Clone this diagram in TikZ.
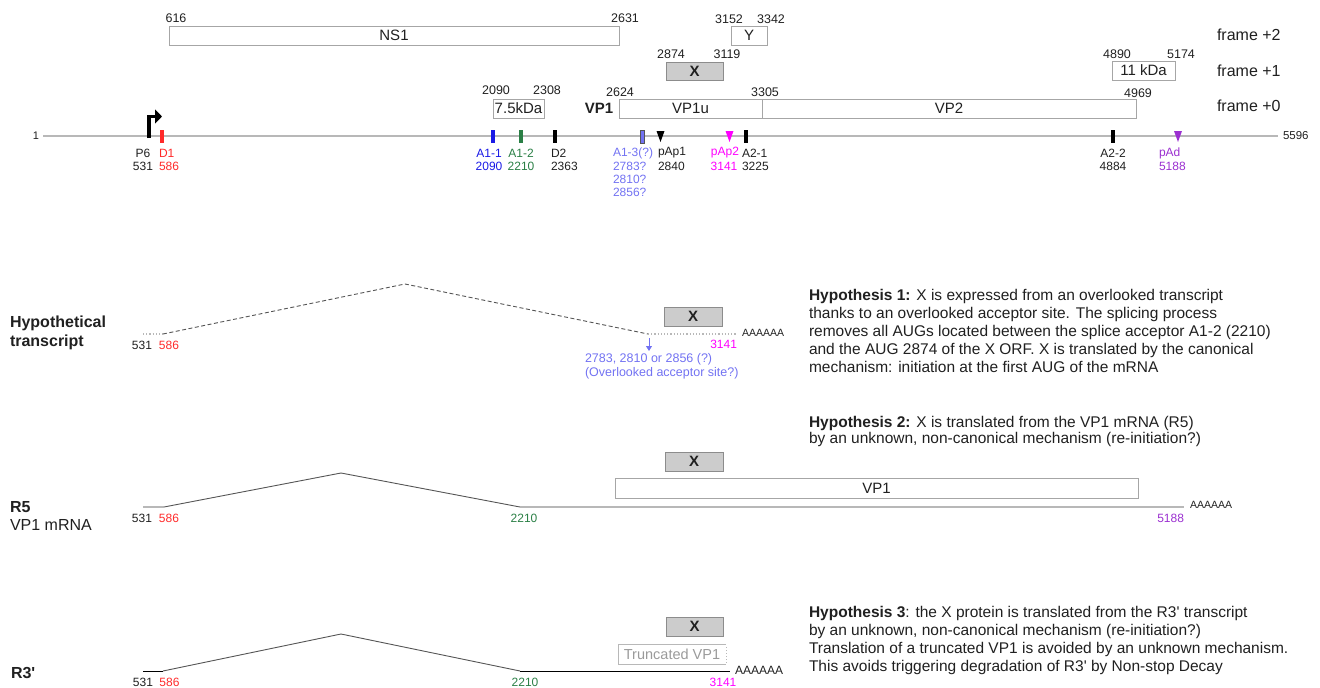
\documentclass[tikz,border=0pt]{standalone}
\usepackage{fontspec}
\setmainfont{Liberation Sans}
\usetikzlibrary{arrows.meta}
\definecolor{boxgray}{HTML}{A6A6A6}
\definecolor{linegray}{HTML}{B8B8B8}
\definecolor{xfill}{HTML}{CCCCCC}
\definecolor{xdraw}{HTML}{8C8C8C}
\definecolor{dred}{HTML}{FF2A2A}
\definecolor{dblue}{HTML}{1A1AE6}
\definecolor{dgreen}{HTML}{2A7F45}
\definecolor{lblue}{HTML}{7272F2}
\definecolor{dmag}{HTML}{FF00FF}
\definecolor{dpurple}{HTML}{9B30D0}
\definecolor{txt}{HTML}{202020}
\definecolor{splice}{HTML}{555555}
\definecolor{trunc}{HTML}{9A9A9A}
\begin{document}
\begin{tikzpicture}[x=1pt,y=-1pt,
  every node/.style={inner sep=0pt, outer sep=0pt, text=txt},
  num/.style={font=\fontsize{12.5}{14}\selectfont},
  lab/.style={font=\fontsize{12}{13}\selectfont},
  frm/.style={font=\fontsize{16}{18}\selectfont, anchor=west},
  orf/.style={draw=boxgray, line width=1pt, fill=white, font=\fontsize{15}{17}\selectfont},
  xorf/.style={draw=xdraw, line width=1pt, fill=xfill, font=\bfseries\fontsize{15}{17}\selectfont},
  site/.style={minimum width=4pt, minimum height=13pt},
  hyp/.style={font=\fontsize{15.5}{18}\selectfont, align=left, anchor=north west},
  rowlab/.style={font=\bfseries\fontsize{16}{19}\selectfont, anchor=west},
  polya/.style={font=\fontsize{10.5}{12}\selectfont, anchor=west},
  genome/.style={draw=linegray, line width=1.5pt},
  exon/.style={draw=linegray, line width=1.5pt},
  intron/.style={draw=splice, line width=0.9pt}
]
\useasboundingbox (0,0) rectangle (1320,688);

% ---------------- ORF boxes ----------------
\node[orf, minimum width=450pt, minimum height=19pt] (ns1) at (394,35.5) {NS1};
\node[orf, minimum width=36pt, minimum height=19pt] (y) at (749,35.5) {Y};
\node[xorf, minimum width=57pt, minimum height=18pt] (xtop) at (694.5,71) {X};
\node[orf, minimum width=51pt, minimum height=19pt] (kda75) at (518.5,108.5) {7.5kDa};
\node[orf, minimum width=143pt, minimum height=19pt] (vp1u) at (690.5,108.5) {VP1u};
\node[orf, minimum width=374pt, minimum height=19pt] (vp2) at (949,108.5) {VP2};
\node[orf, minimum width=63pt, minimum height=19pt] (kda11) at (1143.5,70.5) {11 kDa};

\node[num] (n616) at (176,18) {616};
\node[num] (n2631) at (625,18) {2631};
\node[num] (n3152) at (729,19) {3152};
\node[num] (n3342) at (771,19) {3342};
\node[num] (n2874) at (671,54) {2874};
\node[num] (n3119) at (727,54) {3119};
\node[num] (n2090t) at (496,90) {2090};
\node[num] (n2308) at (547,90) {2308};
\node[num] (n2624) at (620,92) {2624};
\node[num] (n3305) at (765,92) {3305};
\node[num] (n4969) at (1138,93) {4969};
\node[num] (n4890) at (1117,54) {4890};
\node[num] (n5174) at (1181,54) {5174};
\node[font=\bfseries\fontsize{15}{17}\selectfont] (vp1lab) at (599,108) {VP1};

\node[frm] (f2) at (1217,35) {frame +2};
\node[frm] (f1) at (1217,71) {frame +1};
\node[frm] (f0) at (1217,106) {frame +0};

% ---------------- genome ----------------
\coordinate (gstart) at (43,136);
\coordinate (gend) at (1278,136);
\draw[genome] (gstart) -- (gend);
\node[lab, font=\fontsize{11}{12}\selectfont, anchor=east] (one) at (39,136) {1};
\node[lab, font=\fontsize{11.5}{12}\selectfont, anchor=west] (len) at (1283,136) {5596};

% P6 promoter arrow
\coordinate (p6a) at (149,138);
\coordinate (p6b) at (162,116.5);
\draw[line width=3.8pt, -{Triangle[length=7pt,width=14pt]}] (p6a) |- (p6b);

% splice sites
\node[site, fill=dred] (d1) at (162,136.5) {};
\node[site, fill=dblue] (a11) at (493,136.5) {};
\node[site, fill=dgreen] (a12) at (521,136.5) {};
\node[site, fill=black] (d2) at (554.5,136.5) {};
\node[site, fill=lblue, draw=splice, line width=0.4pt] (a13) at (642,136.5) {};
\node[site, fill=black] (a21) at (746,136.5) {};
\node[site, fill=black] (a22) at (1113,136.5) {};
% polyA sites
\fill[black] (656.5,131) -- (664.5,131) -- (660.5,142) -- cycle;
\fill[dmag] (725.5,131) -- (733.5,131) -- (729.5,142) -- cycle;
\fill[dpurple] (1174,131) -- (1182,131) -- (1178,142) -- cycle;

% site labels
\node[lab] (lp6) at (143,153) {P6};
\node[lab] (l531) at (143,166) {531};
\node[lab, anchor=west, text=dred] (ld1) at (159,153) {D1};
\node[lab, anchor=west, text=dred] (l586) at (159,166) {586};
\node[lab, text=dblue] (la11) at (489,153) {A1-1};
\node[lab, text=dblue] (l2090) at (489,166) {2090};
\node[lab, text=dgreen] (la12) at (521,153) {A1-2};
\node[lab, text=dgreen] (l2210) at (521,166) {2210};
\node[lab, anchor=west] (ld2) at (551,153) {D2};
\node[lab, anchor=west] (l2363) at (551,166) {2363};
\node[lab, anchor=west, text=lblue] (la13) at (613,153) {A1-3(?)};
\node[lab, anchor=west, text=lblue] (l2783) at (613,166) {2783?};
\node[lab, anchor=west, text=lblue] (l2810) at (613,179) {2810?};
\node[lab, anchor=west, text=lblue] (l2856) at (613,192) {2856?};
\node[lab, anchor=west] (lpap1) at (658,153) {pAp1};
\node[lab, anchor=west] (l2840) at (658,166) {2840};
\node[lab, text=dmag] (lpap2) at (725,153) {pAp2};
\node[lab, text=dmag] (l3141) at (724,166) {3141};
\node[lab, anchor=west] (la21) at (742,153) {A2-1};
\node[lab, anchor=west] (l3225) at (742,166) {3225};
\node[lab] (la22) at (1113,153) {A2-2};
\node[lab] (l4884) at (1113,166) {4884};
\node[lab, anchor=west, text=dpurple] (lpad) at (1159,153) {pAd};
\node[lab, anchor=west, text=dpurple] (l5188) at (1159,166) {5188};

% ---------------- Hypothetical transcript ----------------
\node[rowlab] (hyplab1) at (10,323) {Hypothetical};
\node[rowlab] (hyplab2) at (10,342) {transcript};
\coordinate (h0) at (143,334);
\coordinate (h1) at (163,334);
\coordinate (hp) at (405,284);
\coordinate (h2) at (648,334);
\coordinate (h3) at (737,334);
\draw[linegray, line width=1.2pt, dotted] (h0) -- (h1);
\draw[splice, line width=0.9pt, dashed, dash pattern=on 4pt off 2.5pt] (h1) -- (hp) -- (h2);
\draw[linegray, line width=1.2pt, dotted] (h2) -- (h3);
\node[polya] (hpa) at (742,333) {AAAAAA};
\node[lab] (h531) at (142,345) {531};
\node[lab, text=dred] (h586) at (169,345) {586};
\node[xorf, minimum width=58pt, minimum height=19pt] (hx) at (693,316.5) {X};
\node[lab, anchor=east, text=dmag] (h3141) at (737,344) {3141};
\coordinate (har1) at (649,338);
\coordinate (har2) at (649,351);
\draw[lblue, line width=0.8pt, -{Triangle[length=5pt,width=6pt]}] (har1) -- (har2);
\node[font=\fontsize{12.5}{14}\selectfont, anchor=west, text=lblue] (hacc1) at (585,359) {2783, 2810 or 2856 (?)};
\node[font=\fontsize{12.5}{14}\selectfont, anchor=west, text=lblue] (hacc2) at (585,373) {(Overlooked acceptor site?)};

\node[hyp] (hyp1) at (809,289) {\textbf{Hypothesis 1:} X is expressed from an overlooked transcript\\
thanks to an overlooked acceptor site. The splicing process\\
removes all AUGs located between the splice acceptor A1-2 (2210)\\
and the AUG 2874 of the X ORF. X is translated by the canonical\\
mechanism: initiation at the first AUG of the mRNA};

% ---------------- R5 ----------------
\node[hyp, font=\fontsize{15.5}{16.5}\selectfont] (hyp2) at (809,416) {\textbf{Hypothesis 2:} X is translated from the VP1 mRNA (R5)\\
by an unknown, non-canonical mechanism (re-initiation?)};
\node[rowlab] (r5lab) at (10,507) {R5};
\node[rowlab, font=\fontsize{16}{19}\selectfont] (r5sub) at (10,525) {VP1 mRNA};
\coordinate (r0) at (143,507);
\coordinate (r1) at (164,507);
\coordinate (rp) at (341,473);
\coordinate (r2) at (520,507);
\coordinate (r3) at (1184,507);
\draw[exon] (r0) -- (r1);
\draw[intron] (r1) -- (rp) -- (r2);
\draw[exon] (r2) -- (r3);
\node[xorf, minimum width=58pt, minimum height=19pt] (rx) at (694,461.5) {X};
\node[orf, minimum width=523pt, minimum height=20pt] (rvp1) at (876.5,488) {VP1};
\node[lab] (r531) at (142,518) {531};
\node[lab, text=dred] (r586) at (169,518) {586};
\node[lab, text=dgreen] (r2210) at (524,518) {2210};
\node[lab, anchor=east, text=dpurple] (r5188) at (1184,518) {5188};
\node[polya] (rpa) at (1190,505) {AAAAAA};

% ---------------- R3' ----------------
\node[hyp] (hyp3) at (809,606) {\textbf{Hypothesis 3}: the X protein is translated from the R3\textquotesingle{} transcript\\
by an unknown, non-canonical mechanism (re-initiation?)\\
Translation of a truncated VP1 is avoided by an unknown mechanism.\\
This avoids triggering degradation of R3\textquotesingle{} by Non-stop Decay};
\node[rowlab] (r3lab) at (11,673) {R3\textquotesingle};
\coordinate (s0) at (143,671);
\coordinate (s1) at (163,671);
\coordinate (sp) at (341,634);
\coordinate (s2) at (520,671);
\coordinate (s3) at (730,671);
\draw[black, line width=0.9pt] (s0) -- (s1);
\draw[intron] (s1) -- (sp) -- (s2);
\draw[black, line width=0.9pt] (s2) -- (s3);
\node[font=\fontsize{12}{14}\selectfont, anchor=west] (spa) at (735,670) {AAAAAA};
\node[xorf, minimum width=57pt, minimum height=19pt] (sx) at (694.5,626.5) {X};
\node[font=\fontsize{14.5}{16}\selectfont, text=trunc, minimum width=108pt, minimum height=20pt] (tvp1) at (672,654) {Truncated VP1};
\draw[linegray, line width=1pt] (tvp1.north east) -- (tvp1.north west) -- (tvp1.south west) -- (tvp1.south east);
\draw[linegray, line width=1pt, dotted] ([yshift=-3pt]tvp1.north east) -- (tvp1.south east);
\node[lab] (s531) at (143,682) {531};
\node[lab, text=dred] (s586) at (169.5,682) {586};
\node[lab, text=dgreen] (s2210) at (525,682) {2210};
\node[lab, text=dmag] (s3141) at (723,682) {3141};
\end{tikzpicture}
\end{document}
